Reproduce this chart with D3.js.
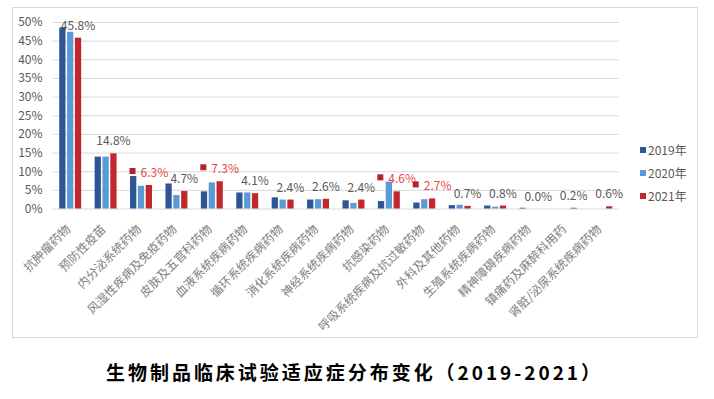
<!DOCTYPE html>
<html>
<head>
<meta charset="utf-8">
<script src="https://cdn.jsdelivr.net/npm/d3@7"></script>
<style>
  body { margin: 0; background: #fff; }
  text { font-family: "Noto Sans CJK SC", "Noto Sans", sans-serif; }
</style>
</head>
<body>
<svg id="chart" width="714" height="399"></svg>
<script>
// categories and yearly shares (%)
const categories = [
    "抗肿瘤药物", "预防性疫苗", "内分泌系统药物", "风湿性疾病及免疫药物",
    "皮肤及五官科药物", "血液系统疾病药物", "循环系统疾病药物", "消化系统疾病药物",
    "神经系统疾病药物", "抗感染药物", "呼吸系统疾病及抗过敏药物", "外科及其他药物",
    "生殖系统疾病药物", "精神障碍疾病药物", "镇痛药及麻醉科用药", "肾脏/泌尿系统疾病药物"
];
const years = ["2019年", "2020年", "2021年"];
const v2019 = [48.5, 13.9, 8.7, 6.7, 4.6, 4.3, 3.0, 2.4, 2.2, 2.0, 1.6, 0.9, 0.8, 0.2, 0.0, 0.0];
const v2020 = [47.4, 13.9, 6.1, 3.6, 7.0, 4.3, 2.4, 2.5, 1.5, 7.2, 2.5, 1.0, 0.5, 0.0, 0.0, 0.0];
const v2021 = [45.8, 14.8, 6.3, 4.7, 7.3, 4.1, 2.4, 2.6, 2.4, 4.6, 2.7, 0.7, 0.8, 0.0, 0.2, 0.6];
// categories whose 2021 label is shown in red with a key marker
const highlighted = ["内分泌系统药物", "皮肤及五官科药物", "抗感染药物", "呼吸系统疾病及抗过敏药物"];
const yTicks = [0, 5, 10, 15, 20, 25, 30, 35, 40, 45, 50];
const title = "生物制品临床试验适应症分布变化（2019-2021）";

const colors = ["#2f5597", "#5b9bd5", "#c0282c"];
const series = [v2019, v2020, v2021];

const svg = d3.select("#chart");

// outer frame
svg.append("rect")
    .attr("x", 12.5).attr("y", 7.5)
    .attr("width", 685).attr("height", 330)
    .attr("fill", "#fff")
    .attr("stroke", "#d9d9d9");

const x0 = d3.scaleBand()
    .domain(categories)
    .range([52.5, 619])
    .paddingInner(0.38)
    .paddingOuter(0.19);

const x1 = d3.scaleBand()
    .domain(years)
    .range([0, x0.bandwidth()])
    .paddingInner(0.2);

const y = d3.scaleLinear()
    .domain([0, 50])
    .range([208.5, 22]);

// gridlines + y labels
const yAxis = d3.axisLeft(y)
    .tickValues(yTicks)
    .tickSize(-(619 - 52.5))
    .tickPadding(10)
    .tickFormat(d => d + "%");

svg.append("g")
    .attr("transform", "translate(52.5,0)")
    .call(yAxis)
    .call(g => g.select(".domain").remove())
    .call(g => g.selectAll(".tick line").attr("stroke", "#d9d9d9"))
    .call(g => g.selectAll(".tick text")
        .attr("fill", "#595959")
        .attr("font-size", 12)
        .attr("x", -10));

// bars
const groups = svg.append("g")
    .selectAll("g")
    .data(categories)
    .join("g")
    .attr("transform", d => `translate(${x0(d)},0)`);

groups.selectAll("rect")
    .data((d, i) => years.map((yr, j) => ({ yr, j, v: series[j][i] })))
    .join("rect")
    .attr("x", d => x1(d.yr))
    .attr("width", x1.bandwidth())
    .attr("y", d => y(d.v))
    .attr("height", d => y(0) - y(d.v))
    .attr("fill", d => colors[d.j]);

// 2021 data labels
categories.forEach((c, i) => {
    const cx = x0(c) + x1("2021年") + x1.bandwidth() / 2;
    const by = y(v2021[i]) - 8;
    const label = v2021[i].toFixed(1) + "%";
    if (highlighted.includes(c)) {
        const g = svg.append("g");
        const t = g.append("text")
            .attr("y", by)
            .attr("font-size", 12)
            .attr("fill", "#e8474c")
            .text(label);
        const w = t.node().getComputedTextLength();
        const total = 6 + 5 + w;
        const left = cx - total / 2;
        g.append("rect")
            .attr("x", left).attr("y", by - 9)
            .attr("width", 6).attr("height", 6)
            .attr("fill", "#b5232a");
        t.attr("x", left + 11);
    } else {
        svg.append("text")
            .attr("x", cx)
            .attr("y", by)
            .attr("text-anchor", "middle")
            .attr("font-size", 12)
            .attr("fill", "#595959")
            .text(label);
    }
});

// rotated category labels
svg.append("g")
    .selectAll("text")
    .data(categories)
    .join("text")
    .attr("transform", d => `translate(${x0(d) + x0.bandwidth() / 2 + 1},${230}) rotate(-45)`)
    .attr("text-anchor", "end")
    .attr("font-size", 12)
    .attr("fill", "#808080")
    .text(d => d);

// legend
const legend = svg.append("g")
    .selectAll("g")
    .data(years)
    .join("g")
    .attr("transform", (d, i) => `translate(640,${150 + i * 23})`);

legend.append("rect")
    .attr("x", 0).attr("y", -3)
    .attr("width", 6).attr("height", 6)
    .attr("fill", (d, i) => colors[i]);

legend.append("text")
    .attr("x", 8)
    .attr("y", 4.5)
    .attr("font-size", 12)
    .attr("fill", "#595959")
    .text(d => d);

// title
svg.append("text")
    .attr("x", 353)
    .attr("y", 380)
    .attr("text-anchor", "middle")
    .attr("font-size", 19)
    .attr("font-weight", "bold")
    .attr("fill", "#000")
    .attr("textLength", 494)
    .attr("lengthAdjust", "spacing")
    .text(title);
</script>
</body>
</html>
